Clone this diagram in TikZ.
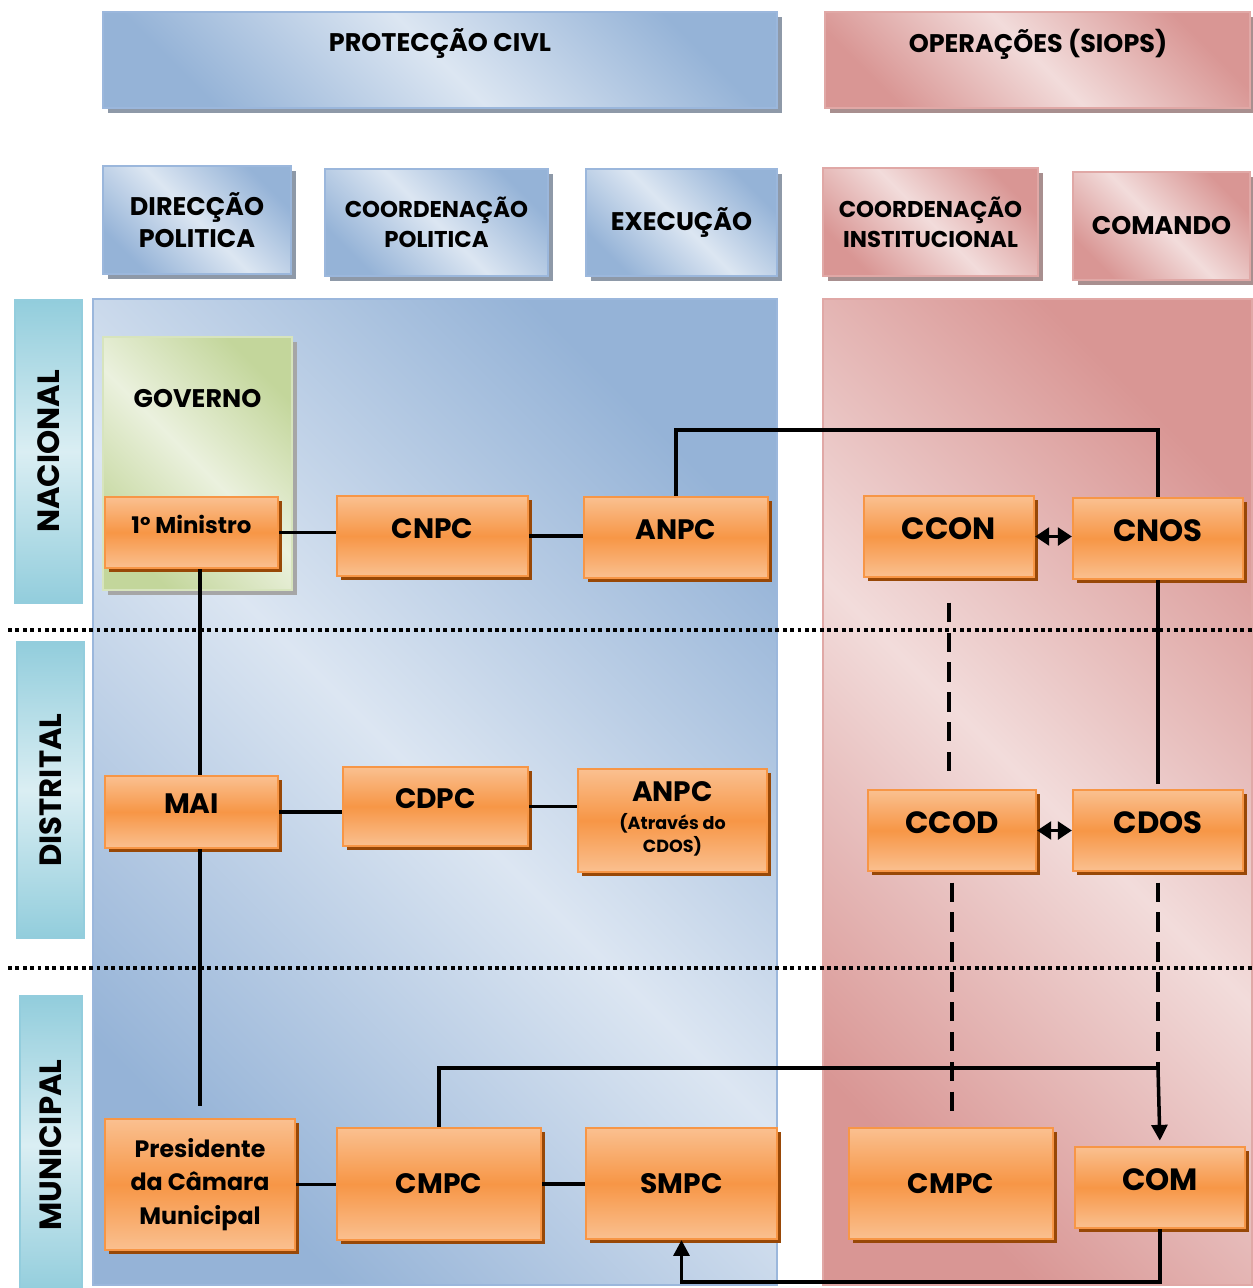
\documentclass[tikz,border=0pt]{standalone}
\usepackage{fontspec}
\setmainfont{Poppins}
\usetikzlibrary{shadows,arrows.meta}

\definecolor{bluelt}{HTML}{DCE6F2}
\definecolor{bluedk}{HTML}{95B3D7}
\definecolor{bluebd}{HTML}{9BB7DC}
\definecolor{bluesh}{HTML}{8E99A8}
\definecolor{redlt}{HTML}{F2DCDB}
\definecolor{reddk}{HTML}{D99694}
\definecolor{redbd}{HTML}{E0A8A6}
\definecolor{redsh}{HTML}{A88F8F}
\definecolor{teallt}{HTML}{DAEEF3}
\definecolor{tealdk}{HTML}{92CDDC}
\definecolor{tealbd}{HTML}{93CDDD}
\definecolor{grnlt}{HTML}{EBF1DE}
\definecolor{grndk}{HTML}{C3D69B}
\definecolor{grnbd}{HTML}{D7E4BD}
\definecolor{orglt}{HTML}{FAC090}
\definecolor{orgmd}{HTML}{F79646}
\definecolor{orgbd}{HTML}{F79646}
\definecolor{orgsh}{HTML}{984807}

\newcommand\hdrfont{\bfseries\fontsize{14.5}{18}\selectfont}
\newcommand\narrowhdrfont{\bfseries\fontsize{13}{17}\selectfont}
\newcommand\orgfont{\bfseries\fontsize{16}{19}\selectfont}
\newcommand\bigorgfont{\bfseries\fontsize{17.5}{21}\selectfont}
\newcommand\lvlfont{\bfseries\fontsize{17.5}{20}\selectfont}
\newcommand\subfont{\fontsize{10}{12.5}\selectfont}

\tikzset{
    hdrbox/.style={line width=1.4pt, inner sep=0pt, align=center, font=\hdrfont,
        drop shadow={shadow xshift=3pt, shadow yshift=-3pt, opacity=1, fill=#1}},
    bluebox/.style={hdrbox=bluesh, draw=bluebd, top color=bluedk, bottom color=bluedk,
        middle color=bluelt, shading angle=-45},
    redbox/.style={hdrbox=redsh, draw=redbd, top color=reddk, bottom color=reddk,
        middle color=redlt, shading angle=-45},
    bluepanel/.style={draw=bluebd, line width=1.2pt, inner sep=0pt, top color=bluedk,
        bottom color=bluedk, middle color=bluelt, shading angle=-45},
    redpanel/.style={draw=redbd, line width=1.2pt, inner sep=0pt, top color=reddk,
        bottom color=reddk, middle color=redlt, shading angle=-45},
    lvlbox/.style={draw=tealbd, line width=1.2pt, inner sep=0pt, rotate=90, font=\lvlfont,
        top color=tealdk, bottom color=tealdk, middle color=teallt},
    govbox/.style={draw=grnbd, line width=1.4pt, inner sep=0pt, top color=grndk,
        bottom color=grndk, middle color=grnlt, shading angle=-45,
        drop shadow={shadow xshift=3pt, shadow yshift=-3pt, opacity=1, fill=black!35}},
    orgbox/.style={draw=orgbd, line width=1.2pt, inner sep=2pt, align=center, font=\orgfont,
        top color=orglt, bottom color=orglt, middle color=orgmd,
        drop shadow={shadow xshift=2.5pt, shadow yshift=-2.5pt, opacity=1, fill=orgsh}},
    raised/.style={text depth=9pt},
    link/.style={line width=2pt, black},
    dashlink/.style={link, dash pattern=on 11pt off 6pt},
    twoway/.style={link, {Triangle[length=8pt,width=10pt]}-{Triangle[length=8pt,width=10pt]}},
    oneway/.style={link, -{Triangle[length=9pt,width=9pt]}},
    sepline/.style={line width=2.2pt, dash pattern=on 2.2pt off 2pt},
}

\begin{document}
\begin{tikzpicture}[x=0.02cm, y=-0.02cm]
    \useasboundingbox (0,0) rectangle (1252,1288);

    % headers
    \node[bluebox, minimum width=13.48cm, minimum height=1.92cm] (prot) at (440,60) {};
    \node[font=\hdrfont] (protlbl) at (440,44) {PROTECÇÃO CIVL};
    \node[redbox, minimum width=8.5cm, minimum height=1.92cm] (siops) at (1037.5,60) {};
    \node[font=\hdrfont] (siopslbl) at (1038,44) {OPERAÇÕES (SIOPS)};

    \node[bluebox, minimum width=3.76cm, minimum height=2.16cm] (dirpol) at (197,220) {DIRECÇÃO\\POLITICA};
    \node[bluebox, minimum width=4.46cm, minimum height=2.14cm, font=\narrowhdrfont] (coordpol) at (436.5,222.5) {COORDENAÇÃO\\POLITICA};
    \node[bluebox, minimum width=3.82cm, minimum height=2.14cm] (exec) at (681.5,222.5) {EXECUÇÃO};
    \node[redbox, minimum width=4.3cm, minimum height=2.16cm, font=\narrowhdrfont] (coordinst) at (930.5,222) {COORDENAÇÃO\\INSTITUCIONAL};
    \node[redbox, minimum width=3.54cm, minimum height=2.16cm] (comando) at (1161.5,226) {COMANDO};

    % panels
    \node[bluepanel, minimum width=13.68cm, minimum height=19.72cm] (civil) at (435,792) {};
    \node[redpanel, minimum width=8.58cm, minimum height=19.72cm] (ops) at (1037.5,792) {};

    % levels
    \node[lvlbox, minimum width=6.06cm, minimum height=1.34cm] (nac) at (48.5,451.5) {NACIONAL};
    \node[lvlbox, minimum width=5.92cm, minimum height=1.34cm] (dist) at (50.5,790) {DISTRITAL};
    \node[lvlbox, minimum width=5.94cm, minimum height=1.24cm] (mun) at (51,1145) {MUNICIPAL};

    \draw[sepline] (8,630) -- (1252,630);
    \draw[sepline] (8,968) -- (1252,968);

    % governo
    \node[govbox, minimum width=3.78cm, minimum height=5.06cm] (gov) at (197.5,463.5) {};
    \node[font=\hdrfont] (govlbl) at (197.5,399) {GOVERNO};

    % nacional
    \node[orgbox, raised, minimum width=3.46cm, minimum height=1.42cm, font=\bfseries\fontsize{13}{16}\selectfont] (min) at (191.5,532.5) {1º Ministro};
    \node[orgbox, raised, minimum width=3.82cm, minimum height=1.6cm] (cnpc) at (432.5,536) {CNPC};
    \node[orgbox, raised, minimum width=3.68cm, minimum height=1.62cm] (anpcn) at (676,537.5) {ANPC};
    \node[orgbox, raised, minimum width=3.4cm, minimum height=1.62cm, font=\bigorgfont] (ccon) at (949,536.5) {CCON};
    \node[orgbox, raised, minimum width=3.4cm, minimum height=1.62cm, font=\bigorgfont] (cnos) at (1158,538.5) {CNOS};

    % distrital
    \node[orgbox, raised, minimum width=3.46cm, minimum height=1.44cm] (mai) at (191.5,812) {MAI};
    \node[orgbox, raised, minimum width=3.7cm, minimum height=1.58cm] (cdpc) at (435.5,806.5) {CDPC};
    \node[orgbox, minimum width=3.78cm, minimum height=2.06cm] (anpcd) at (672.5,820.5)
        {ANPC\\[-3pt]{\subfont\begin{tabular}[t]{@{}c@{}}(Através do\\CDOS)\end{tabular}}};
    \node[orgbox, raised, minimum width=3.36cm, minimum height=1.62cm, font=\bigorgfont] (ccod) at (952,830.5) {CCOD};
    \node[orgbox, raised, minimum width=3.4cm, minimum height=1.62cm, font=\bigorgfont] (cdos) at (1158,830.5) {CDOS};

    % municipal
    \node[orgbox, minimum width=3.8cm, minimum height=2.62cm, font=\bfseries\fontsize{13.5}{19}\selectfont] (pres) at (200,1184.5) {Presidente\\da Câmara\\Municipal};
    \node[orgbox, minimum width=4.08cm, minimum height=2.24cm] (cmpcl) at (439,1184) {CMPC};
    \node[orgbox, minimum width=3.82cm, minimum height=2.22cm] (smpc) at (681.5,1183.5) {SMPC};
    \node[orgbox, minimum width=4.08cm, minimum height=2.22cm] (cmpcr) at (951,1183.5) {CMPC};
    \node[orgbox, raised, minimum width=3.4cm, minimum height=1.62cm, font=\bigorgfont] (com) at (1160,1187.5) {COM};

    \coordinate (topbend) at (1158,430);
    \coordinate (junc) at (1158,1068);
    \coordinate (botbend) at (900,1282);

    % connectors
    \draw[link] (min.east) -- (min.east -| cnpc.west);
    \draw[link] (cnpc.east) -- (cnpc.east -| anpcn.west);
    \draw[link] (anpcn.north) |- (topbend) -- (cnos.north);
    \draw[twoway] (ccon.east) -- (ccon.east -| cnos.west);
    \draw[dashlink, shorten <=14pt, shorten >=6pt] (ccon.south) -- (ccon.south |- ccod.north);
    \draw[link, shorten >=3pt] (cnos.south) -- (cdos.north);
    \draw[twoway] (ccod.east) -- (ccod.east -| cdos.west);
    \draw[dashlink, shorten <=6pt, shorten >=6pt] (ccod.south) -- (ccod.south |- cmpcr.north);
    \draw[dashlink, shorten <=6pt] (cdos.south) -- (junc);
    \draw[link] (cmpcl.north) |- (junc);
    \draw[oneway, shorten >=3pt] (junc) -- (com.north);
    \draw[oneway] (com.south) |- (botbend) -| (smpc.south);

    \draw[link] (min.south -| pres.north) -- (mai.north -| pres.north);
    \draw[link, shorten >=7pt] (mai.south -| pres.north) -- (pres.north);
    \draw[link] (mai.east) -- (mai.east -| cdpc.west);
    \draw[link] (cdpc.east) -- (cdpc.east -| anpcd.west);
    \draw[link] (pres.east) -- (pres.east -| cmpcl.west);
    \draw[link] (cmpcl.east) -- (cmpcl.east -| smpc.west);
\end{tikzpicture}
\end{document}
